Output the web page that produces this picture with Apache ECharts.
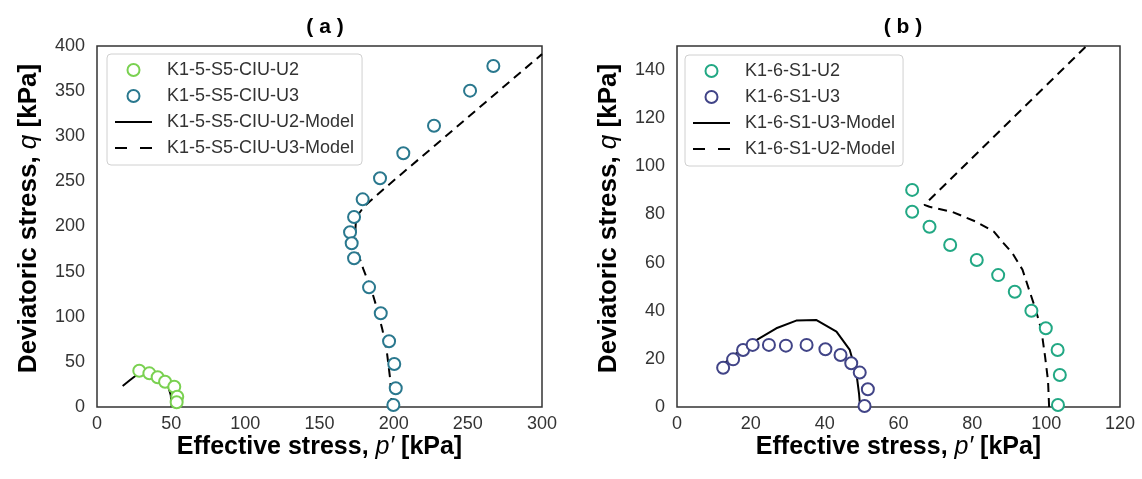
<!DOCTYPE html>
<html>
<head>
<meta charset="utf-8">
<script src="https://cdn.jsdelivr.net/npm/echarts@6/dist/echarts.min.js"></script>
<style>
html,body{margin:0;padding:0;background:#fff;}
#chart{width:1142px;height:479px;}
</style>
</head>
<body>
<div id="chart"></div>
<script>
// ---- Panel (a) data ----
const aU2P = [28.5, 35.3, 40.9, 45.9, 52.1, 54.1, 53.7];
const aU2Q = [40.2, 37.3, 32.9, 28.0, 22.5, 11.4, 5.2];
const aU3P = [267.2, 251.5, 227.2, 206.5, 190.8, 179.1, 173.3, 170.6, 171.7, 173.3, 183.4, 191.3, 196.9, 200.4, 201.4, 199.8];
const aU3Q = [377.8, 350.5, 311.7, 281.1, 253.4, 230.1, 210.5, 193.6, 181.4, 164.8, 132.6, 103.8, 72.8, 47.6, 20.7, 2.2];
const aU2ModelP = [17.3, 22.3, 26.7, 31, 35.7, 42.5, 47.4, 49.7, 50.4];
const aU2ModelQ = [23.3, 29.9, 35.5, 37.6, 38.4, 35.4, 26.2, 13.3, 0];
const aU3ModelP = [199, 198.5, 197.5, 195.5, 192.5, 189.5, 185, 179.5, 176, 174.5, 174, 174.5, 176, 180, 184, 193, 300];
const aU3ModelQ = [0, 10, 33, 60, 85, 105, 130, 153, 170, 180, 190, 205, 213, 222, 228, 241, 391];

// ---- Panel (b) data ----
const bU2P = [63.7, 63.7, 68.4, 74.0, 81.2, 87.0, 91.5, 96.0, 99.9, 103.1, 103.7, 103.2];
const bU2Q = [90.2, 81.1, 74.9, 67.3, 61.1, 54.8, 47.9, 40.0, 32.7, 23.7, 13.3, 0.8];
const bU3P = [12.5, 15.2, 17.9, 20.5, 24.9, 29.5, 35.1, 40.2, 44.3, 47.2, 49.5, 51.7, 50.8];
const bU3Q = [16.3, 19.8, 23.7, 25.8, 25.8, 25.5, 25.8, 24.0, 21.6, 18.2, 14.3, 7.4, 0.4];
const bU3ModelP = [11.2, 16.1, 21.5, 26.9, 32.3, 37.8, 43.2, 46.8, 48.6, 49.3, 49.6];
const bU3ModelQ = [16.1, 22.3, 27.8, 32.7, 35.9, 36.1, 31.3, 23.7, 14.0, 5.7, 0.1];
const bU2ModelP = [100.8, 100.5, 99.7, 98.7, 97.2, 95.4, 93.6, 90.9, 88.5, 85.9, 81.0, 74.7, 68.4, 67.0, 110.9];
const bU2ModelQ = [0, 11, 21, 32, 40.3, 48.6, 57, 63.8, 68, 72.8, 77, 81, 83.2, 84, 150];

const xTicksA = [0, 50, 100, 150, 200, 250, 300];
const yTicksA = [0, 50, 100, 150, 200, 250, 300, 350, 400];
const xTicksB = [0, 20, 40, 60, 80, 100, 120];
const yTicksB = [0, 20, 40, 60, 80, 100, 120, 140];

const names = {
  aU2: 'K1-5-S5-CIU-U2', aU3: 'K1-5-S5-CIU-U3',
  aU2M: 'K1-5-S5-CIU-U2-Model', aU3M: 'K1-5-S5-CIU-U3-Model',
  bU2: 'K1-6-S1-U2', bU3: 'K1-6-S1-U3',
  bU3M: 'K1-6-S1-U3-Model', bU2M: 'K1-6-S1-U2-Model'
};

const pairs = (xs, ys) => xs.map((x, i) => [x, ys[i]]);

const FONT = 'Liberation Sans, Arial, sans-serif';
const xName = '{b|Effective stress, }{i|p\u2032}{b| [kPa]}';
const yName = '{b|Deviatoric stress, }{i|q}{b| [kPa]}';
function rich(size) {
  return {
    b: {fontFamily: FONT, fontWeight: 'bold', fontSize: size, color: '#000'},
    i: {fontFamily: FONT, fontStyle: 'italic', fontWeight: 'normal', fontSize: size, color: '#000'}
  };
}

function xAxis(idx, ticks) {
  return {
    type: 'value', gridIndex: idx, min: ticks[0], max: ticks[ticks.length - 1],
    interval: ticks[1] - ticks[0],
    name: xName, nameLocation: 'middle', nameGap: 28, nameMoveOverlap: false,
    nameTextStyle: {rich: rich(25), verticalAlign: 'top'},
    axisLine: {show: false}, axisTick: {show: false}, splitLine: {show: false},
    axisLabel: {fontFamily: FONT, fontSize: 18, color: '#333', margin: 8}
  };
}
function yAxis(idx, ticks, max) {
  return {
    type: 'value', gridIndex: idx, min: ticks[0], max: max,
    interval: ticks[1] - ticks[0],
    name: yName, nameLocation: 'middle', nameGap: 55,
    nameTextStyle: {rich: rich(26), padding: [0, 0, 0, 16]},
    axisLine: {show: false}, axisTick: {show: false}, splitLine: {show: false},
    axisLabel: {fontFamily: FONT, fontSize: 18, color: '#333', margin: 12,
      formatter: v => (ticks.indexOf(v) >= 0 ? String(v) : '')}
  };
}

function scatter(name, xi, data, color) {
  return {
    type: 'scatter', name: name, xAxisIndex: xi, yAxisIndex: xi, data: data,
    symbol: 'emptyCircle', symbolSize: 12,
    itemStyle: {color: color, borderColor: color, borderWidth: 2, opacity: 1},
    z: 3
  };
}
function line(name, xi, data, dashed) {
  return {
    type: 'line', name: name, xAxisIndex: xi, yAxisIndex: xi, data: data,
    symbol: 'none', showSymbol: false, smooth: false,
    lineStyle: {color: '#000', width: 2, type: dashed ? [9, 6] : 'solid'},
    itemStyle: {color: '#000'},
    z: 2
  };
}

const cA2 = '#7ad151', cA3 = '#2a788e', cB2 = '#22a884', cB3 = '#414487';

const SOLID_ICON = 'path://M0,0h37v2h-37z';
const DASH_ICON = 'path://M0,0h12v2h-12z M25,0h12v2h-12z';

function circleItem(name, color) {
  return {name: name, icon: 'emptyCircle',
    itemStyle: {color: color, borderColor: color, borderWidth: 2, opacity: 1}};
}
function lineItem(name, dashed) {
  return {name: name, icon: dashed ? DASH_ICON : SOLID_ICON,
    itemStyle: {color: '#000', borderWidth: 0, opacity: 1}};
}

const legendBase = {
  orient: 'vertical', backgroundColor: '#fff', borderColor: '#d0d0d0', borderWidth: 1,
  borderRadius: 4, padding: [7, 8, 8, 8], itemGap: 8, itemWidth: 37, itemHeight: 12,
  symbolKeepAspect: true,
  textStyle: {fontFamily: FONT, fontSize: 18, color: '#333', padding: [0, 0, 0, 10]}
};

const option = {
  backgroundColor: '#fff',
  animation: false,
  title: [
    {text: '( a )', left: 320, top: 12, textAlign: 'center',
     textStyle: {fontFamily: FONT, fontWeight: 'bold', fontSize: 21, color: '#000'}},
    {text: '( b )', left: 898, top: 12, textAlign: 'center',
     textStyle: {fontFamily: FONT, fontWeight: 'bold', fontSize: 21, color: '#000'}}
  ],
  grid: [
    {left: 97, right: 600, top: 46, bottom: 72, show: true, borderColor: '#333', borderWidth: 1.5, backgroundColor: 'transparent'},
    {left: 677, right: 22, top: 46, bottom: 72, show: true, borderColor: '#333', borderWidth: 1.5, backgroundColor: 'transparent'}
  ],
  xAxis: [xAxis(0, xTicksA), xAxis(1, xTicksB)],
  yAxis: [yAxis(0, yTicksA, 400), yAxis(1, yTicksB, 150)],
  legend: [
    Object.assign({}, legendBase, {
      left: 107, top: 54,
      data: [
        circleItem(names.aU2, cA2),
        circleItem(names.aU3, cA3),
        lineItem(names.aU2M, false),
        lineItem(names.aU3M, true)
      ]
    }),
    Object.assign({}, legendBase, {
      left: 685, top: 55,
      data: [
        circleItem(names.bU2, cB2),
        circleItem(names.bU3, cB3),
        lineItem(names.bU3M, false),
        lineItem(names.bU2M, true)
      ]
    })
  ],
  series: [
    line(names.aU2M, 0, pairs(aU2ModelP, aU2ModelQ), false),
    line(names.aU3M, 0, pairs(aU3ModelP, aU3ModelQ), true),
    scatter(names.aU2, 0, pairs(aU2P, aU2Q), cA2),
    scatter(names.aU3, 0, pairs(aU3P, aU3Q), cA3),
    line(names.bU3M, 1, pairs(bU3ModelP, bU3ModelQ), false),
    line(names.bU2M, 1, pairs(bU2ModelP, bU2ModelQ), true),
    scatter(names.bU2, 1, pairs(bU2P, bU2Q), cB2),
    scatter(names.bU3, 1, pairs(bU3P, bU3Q), cB3)
  ]
};

const chart = echarts.init(document.getElementById('chart'), null, {renderer: 'canvas'});
chart.setOption(option);
</script>
</body>
</html>
